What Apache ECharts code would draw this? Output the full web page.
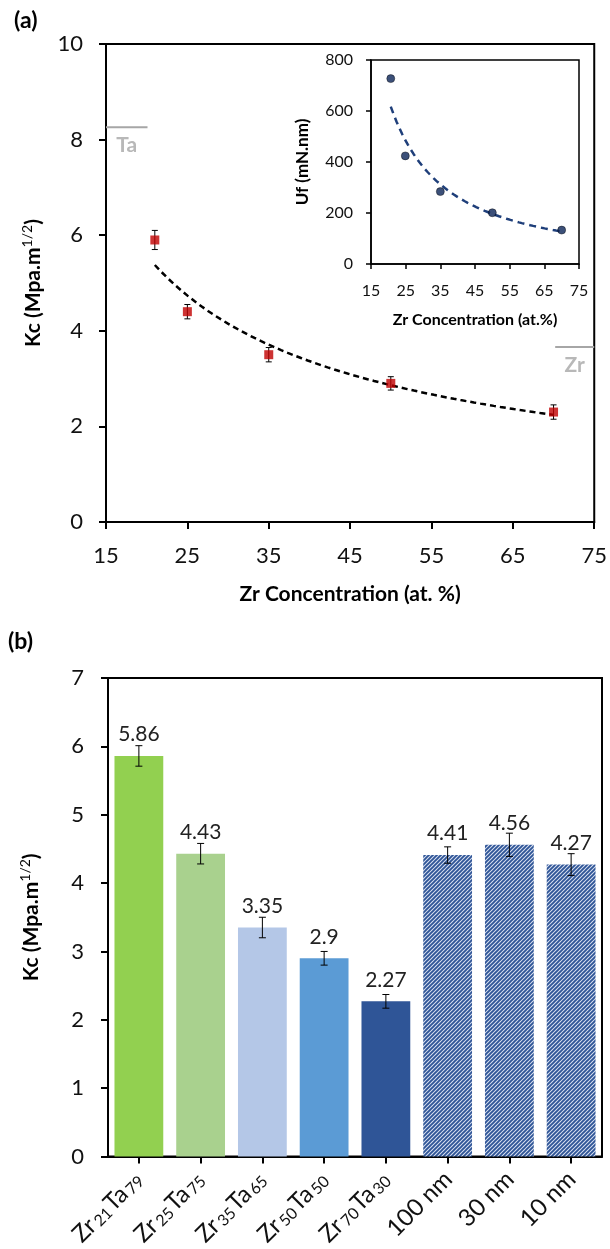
<!DOCTYPE html>
<html>
<head>
<meta charset="utf-8">
<script src="https://cdn.jsdelivr.net/npm/echarts@6/dist/echarts.min.js"></script>
<style>
  html, body { margin: 0; padding: 0; background: #ffffff; }
  #chart { width: 610px; height: 1249px; }
</style>
</head>
<body>
<div id="chart"></div>
<script>
// ---- Panel (a): fracture toughness Kc against Zr content ----
const zrConc   = [21, 25, 35, 50, 70];
const kcValues = [5.9, 4.4, 3.5, 2.9, 2.3];
const kcErrors = [0.2, 0.15, 0.15, 0.14, 0.15];

// Inset: fracture energy Uf against Zr content
const ufConc   = [20.7, 24.9, 35, 50, 70];
const ufValues = [727, 424, 284, 201, 133];

// Pure-element reference levels of Kc
const refNames  = ['Ta', 'Zr'];
const refLevels = [8.26, 3.66];
const refSpans  = [[15, 20.1], [70.2, 75]];

// ---- Panel (b): Kc of the alloys and of the multilayers ----
const alloyZr     = [21, 25, 35, 50, 70];
const alloyTa     = [79, 75, 65, 50, 30];
const layerLabels = ['100 nm', '30 nm', '10 nm'];
const barValues   = [5.86, 4.43, 3.35, 2.9, 2.27, 4.41, 4.56, 4.27];
const barErrors   = [0.15, 0.15, 0.15, 0.1, 0.1, 0.12, 0.17, 0.16];

// Axis ticks
const kcTicksA = { min: 0, max: 10, interval: 2 };
const zrTicks  = { min: 15, max: 75, interval: 10 };
const ufTicks  = { min: 0, max: 800, interval: 200 };
const kcTicksB = { min: 0, max: 7, interval: 1 };

const FONT = 'Lato, "Open Sans", sans-serif';
const INK = '#000000';

// Least-squares power trendline y = a * x^b (fit in log-log space)
function powerTrend(xs, ys, steps) {
  const lx = xs.map(Math.log), ly = ys.map(Math.log);
  const n = xs.length;
  const mx = lx.reduce((s, v) => s + v, 0) / n;
  const my = ly.reduce((s, v) => s + v, 0) / n;
  let sxy = 0, sxx = 0;
  for (let i = 0; i < n; i++) {
    sxy += (lx[i] - mx) * (ly[i] - my);
    sxx += (lx[i] - mx) * (lx[i] - mx);
  }
  const b = sxy / sxx, a = Math.exp(my - b * mx);
  const x0 = Math.min(...xs), x1 = Math.max(...xs);
  const pts = [];
  for (let i = 0; i <= steps; i++) {
    const x = x0 + (x1 - x0) * i / steps;
    pts.push([x, a * Math.pow(x, b)]);
  }
  return pts;
}

// Vertical error bar with caps
function errorBar(capHalf) {
  return function (params, api) {
    const x = api.value(0), lo = api.value(1), hi = api.value(2);
    const pLo = api.coord([x, lo]), pHi = api.coord([x, hi]);
    const style = { stroke: '#000', lineWidth: 1 };
    return {
      type: 'group',
      children: [
        { type: 'line', shape: { x1: pHi[0], y1: pHi[1], x2: pLo[0], y2: pLo[1] }, style },
        { type: 'line', shape: { x1: pHi[0] - capHalf, y1: pHi[1], x2: pHi[0] + capHalf, y2: pHi[1] }, style },
        { type: 'line', shape: { x1: pLo[0] - capHalf, y1: pLo[1], x2: pLo[0] + capHalf, y2: pLo[1] }, style }
      ]
    };
  };
}

// Diagonal hatch fill for the multilayer bars
function hatchPattern() {
  const s = 4;
  const c = document.createElement('canvas');
  c.width = s; c.height = s;
  const g = c.getContext('2d');
  g.fillStyle = '#dbe3f2';
  g.fillRect(0, 0, s, s);
  g.strokeStyle = '#2f5597';
  g.lineWidth = 1.9;
  g.beginPath();
  g.moveTo(0, s); g.lineTo(s, 0);
  g.moveTo(-s / 2, s / 2); g.lineTo(s / 2, -s / 2);
  g.moveTo(s / 2, s * 1.5); g.lineTo(s * 1.5, s / 2);
  g.stroke();
  return c;
}

const alloyLabels = alloyZr.map((z, i) => '{m|Zr}{s|' + z + '}{m|Ta}{s|' + alloyTa[i] + '}');
const barCategories = alloyLabels.concat(layerLabels.map(t => '{m|' + t + '}'));
const barFills = ['#92d050', '#a9d18e', '#b4c7e7', '#5b9bd5', '#2f5597'];
const hatch = { image: hatchPattern(), repeat: 'repeat' };

function valueAxis(grid, ticks, labelSize, margin) {
  return {
    type: 'value', gridIndex: grid,
    min: ticks.min, max: ticks.max, interval: ticks.interval,
    axisLine: { show: true, lineStyle: { color: INK, width: 2 } },
    axisTick: { show: true, inside: false, length: 7, lineStyle: { color: INK, width: 2 } },
    axisLabel: { color: '#111', fontFamily: FONT, fontSize: labelSize, margin: margin },
    splitLine: { show: false }
  };
}

const kcName = {
  rich: {
    t: { fontFamily: FONT, fontWeight: 'bold', fontSize: 21, color: INK, lineHeight: 24, verticalAlign: 'bottom' },
    p: { fontFamily: FONT, fontWeight: 'normal', fontSize: 14, color: INK, lineHeight: 13, verticalAlign: 'top' }
  }
};

const xA = Object.assign(valueAxis(0, zrTicks, 22, 23), {
  name: 'Zr Concentration (at. %)', nameLocation: 'middle', nameGap: 62,
  nameTextStyle: { fontFamily: FONT, fontWeight: 'bold', fontSize: 21, color: INK }
});
const yA = Object.assign(valueAxis(0, kcTicksA, 22, 23), {
  name: '{t|Kc (Mpa.m}{p|1/2}{t|)}', nameLocation: 'middle', nameGap: 62,
  nameTextStyle: kcName
});
const xI = Object.assign(valueAxis(1, zrTicks, 16, 19), {
  name: 'Zr Concentration (at.%)', nameLocation: 'middle', nameGap: 48,
  nameTextStyle: { fontFamily: FONT, fontWeight: 'bold', fontSize: 16, color: INK }
});
xI.axisTick.length = 5; xI.axisLine.lineStyle.width = 1.5; xI.axisTick.lineStyle.width = 1.5;
const yI = Object.assign(valueAxis(1, ufTicks, 16, 18), {
  name: 'Uf (mN.nm)', nameLocation: 'middle', nameGap: 60,
  nameTextStyle: { fontFamily: FONT, fontWeight: 'bold', fontSize: 17, color: INK }
});
yI.axisTick.length = 5; yI.axisLine.lineStyle.width = 1.5; yI.axisTick.lineStyle.width = 1.5;

const xB = {
  type: 'category', gridIndex: 2, data: barCategories,
  axisLine: { show: true, lineStyle: { color: INK, width: 2 } },
  axisTick: { show: true, alignWithLabel: true, length: 7, lineStyle: { color: INK, width: 2 } },
  axisLabel: {
    rotate: 45, margin: 18, interval: 0,
    rich: {
      m: { fontFamily: FONT, fontSize: 24, color: '#111', lineHeight: 26, verticalAlign: 'bottom' },
      s: { fontFamily: FONT, fontSize: 16, color: '#111', lineHeight: 20, verticalAlign: 'bottom', padding: [0, 1, 0, 2] }
    }
  },
  splitLine: { show: false }
};
const yB = Object.assign(valueAxis(2, kcTicksB, 22, 24), {
  name: '{t|Kc (Mpa.m}{p|1/2}{t|)}', nameLocation: 'middle', nameGap: 66,
  nameTextStyle: kcName
});

const boxGrid = { show: true, borderColor: INK, borderWidth: 2, backgroundColor: 'transparent', containLabel: false };

const series = [
  // (a) trendline
  {
    type: 'line', xAxisIndex: 0, yAxisIndex: 0, data: powerTrend(zrConc, kcValues, 60),
    showSymbol: false, symbol: 'none', silent: true, z: 2,
    lineStyle: { color: '#000', width: 2.5, type: [6, 4] }
  },
  // (a) error bars
  {
    type: 'custom', xAxisIndex: 0, yAxisIndex: 0, z: 3,
    data: zrConc.map((x, i) => [x, kcValues[i] - kcErrors[i], kcValues[i] + kcErrors[i]]),
    renderItem: errorBar(3), encode: { x: 0, y: [1, 2] }
  },
  // (a) measured points
  {
    type: 'scatter', xAxisIndex: 0, yAxisIndex: 0, z: 4,
    data: zrConc.map((x, i) => [x, kcValues[i]]),
    symbol: 'rect', symbolSize: 9, itemStyle: { color: '#c00000' }
  }
];

// Pure-element reference lines and their tags
refNames.forEach((nm, i) => {
  series.push({
    type: 'line', xAxisIndex: 0, yAxisIndex: 0, silent: true, symbol: 'none', z: 2,
    data: [[refSpans[i][0], refLevels[i]], [refSpans[i][1], refLevels[i]]],
    lineStyle: { color: '#a6a6a6', width: 2 }
  });
  series.push({
    type: 'scatter', xAxisIndex: 0, yAxisIndex: 0, silent: true, z: 2,
    data: [[(refSpans[i][0] + refSpans[i][1]) / 2, refLevels[i]]],
    symbolSize: 0, itemStyle: { color: 'rgba(0,0,0,0)' },
    label: {
      show: true, position: 'bottom', distance: 8, formatter: nm,
      fontFamily: FONT, fontWeight: 'bold', fontSize: 21, color: '#a6a6a6'
    }
  });
});

series.push(
  // inset trendline
  {
    type: 'line', xAxisIndex: 1, yAxisIndex: 1, data: powerTrend(ufConc, ufValues, 60),
    showSymbol: false, symbol: 'none', silent: true, z: 2,
    lineStyle: { color: '#1f3f7a', width: 2.5, type: [7, 5] }
  },
  // inset points
  {
    type: 'scatter', xAxisIndex: 1, yAxisIndex: 1, z: 4,
    data: ufConc.map((x, i) => [x, ufValues[i]]),
    symbol: 'circle', symbolSize: 8,
    itemStyle: { color: '#0b2457', borderColor: '#000', borderWidth: 0.5 }
  },
  // (b) bars
  {
    type: 'bar', xAxisIndex: 2, yAxisIndex: 2, barWidth: '79%', z: 2,
    data: barValues.map((v, i) => ({ value: v, itemStyle: { color: i < barFills.length ? barFills[i] : hatch } })),
    label: {
      show: true, position: 'top', distance: 11,
      fontFamily: FONT, fontSize: 21, color: '#222'
    }
  },
  // (b) error bars
  {
    type: 'custom', xAxisIndex: 2, yAxisIndex: 2, z: 3,
    data: barValues.map((v, i) => [i, v - barErrors[i], v + barErrors[i]]),
    renderItem: errorBar(3.5), encode: { x: 0, y: [1, 2] }
  }
);

const chart = echarts.init(document.getElementById('chart'), null, { renderer: 'canvas' });
chart.setOption({
  animation: false,
  backgroundColor: '#ffffff',
  textStyle: { fontFamily: FONT },
  grid: [
    Object.assign({ left: 106, top: 44, width: 492, height: 478 }, boxGrid),
    Object.assign({ left: 371, top: 60, width: 208, height: 204 }, boxGrid, { borderWidth: 1.5 }),
    Object.assign({ left: 108, top: 678, width: 494, height: 484 }, boxGrid)
  ],
  xAxis: [xA, xI, xB],
  yAxis: [yA, yI, yB],
  graphic: [
    { type: 'text', left: 14, top: 9, style: { text: '(a)', font: 'bold 23px ' + FONT, fill: INK } },
    { type: 'text', left: 8, top: 630, style: { text: '(b)', font: 'bold 23px ' + FONT, fill: INK } }
  ],
  series: series
});
</script>
</body>
</html>
